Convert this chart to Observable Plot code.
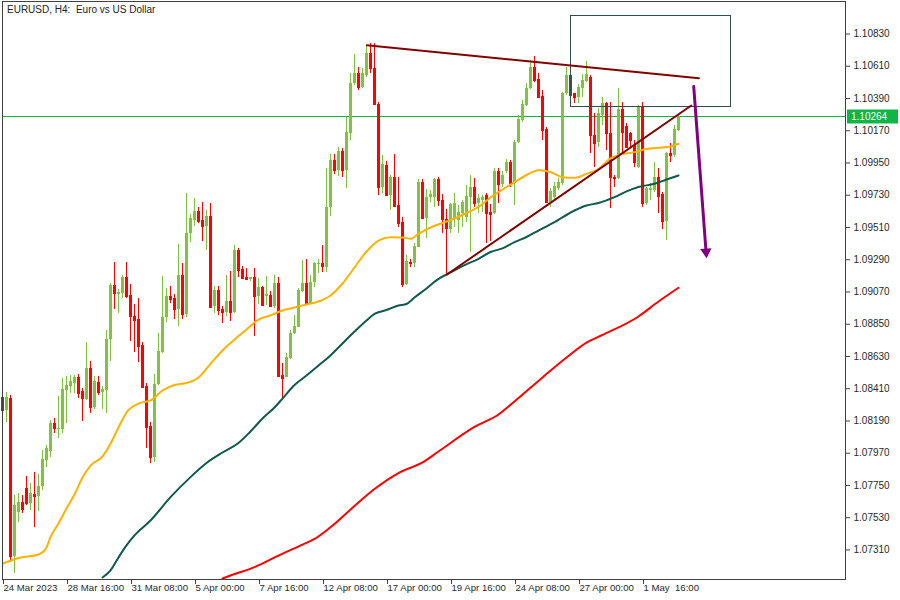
<!DOCTYPE html>
<html><head><meta charset="utf-8">
<script src="https://cdn.jsdelivr.net/npm/d3@7"></script>
<script src="https://cdn.jsdelivr.net/npm/@observablehq/plot@0.6"></script>
<style>
html,body{margin:0;padding:0;background:#fff;}
#chart svg{display:block;}
</style></head><body><div id="chart"></div>
<script>
// ---- chart title ----
const title = "EURUSD, H4:  Euro vs US Dollar";

// ---- candles (H4 bars, index 0 = 24 Mar 2023 00:00) ----
const open = [
1.08350,1.08261,1.08341,1.07266,1.07568,1.07636,1.07727,1.07625,1.07688,1.07675,
1.07743,1.07920,1.07982,1.08175,1.08132,1.08132,1.08398,1.08425,1.08448,1.08489,
1.08391,1.08337,1.08550,1.08284,1.08450,1.08386,1.08398,1.08746,1.09116,1.09055,
1.09062,1.09171,1.09046,1.08905,1.08882,1.08705,1.08425,1.08152,1.07943,1.08437,
1.08659,1.08894,1.09039,1.09028,1.08951,1.09182,1.08916,1.09467,1.09558,1.09619,
1.09558,1.09519,1.09585,1.08971,1.09080,1.08951,1.08932,1.09005,1.08932,1.09353,
1.09221,1.09171,1.09157,1.09167,1.09039,1.09103,1.09041,1.09046,1.08971,1.09130,
1.08500,1.08489,1.08614,1.08785,1.08830,1.09075,1.09130,1.08994,1.09133,1.09258,
1.09266,1.09239,1.09644,1.09967,1.09899,1.10030,1.09899,1.10149,1.10490,1.10563,
1.10467,1.10547,1.10695,1.10593,1.10349,1.09785,1.09933,1.09728,1.09853,1.09660,
1.09546,1.09121,1.09273,1.09262,1.09376,1.09817,1.09569,1.09713,1.09717,1.09837,
1.09694,1.09562,1.09496,1.09562,1.09558,1.09608,1.09576,1.09717,1.09785,1.09676,
1.09694,1.09728,1.09614,1.09603,1.09892,1.09803,1.09894,1.09955,1.09808,1.10092,
1.10240,1.10342,1.10456,1.10604,1.10518,1.10404,1.10176,1.09683,1.09717,1.09774,
1.09808,1.10422,1.10547,1.10422,1.10399,1.10456,1.10508,1.10535,1.10138,1.10092,
1.10274,1.10358,1.10149,1.09853,1.09846,1.10313,1.10199,1.10149,1.10069,1.09921,
1.10335,1.09676,1.09762,1.09762,1.09853,1.09735,1.09553,1.10013,1.10001,1.10172];
const high = [
1.08364,1.08386,1.08364,1.07682,1.07695,1.07682,1.07811,1.07761,1.07841,1.07825,
1.07989,1.08023,1.08193,1.08205,1.08357,1.08478,1.08493,1.08500,1.08500,1.08507,
1.08410,1.08727,1.08596,1.08493,1.08496,1.08425,1.08807,1.09126,1.09271,1.09087,
1.09182,1.09271,1.09119,1.08983,1.09028,1.08723,1.08448,1.08182,1.08507,1.08789,
1.09176,1.09096,1.09107,1.09051,1.09394,1.09266,1.09740,1.09597,1.09706,1.09648,
1.09678,1.09626,1.09672,1.09107,1.09107,1.08971,1.09182,1.09212,1.09387,1.09365,
1.09244,1.09228,1.09171,1.09228,1.09164,1.09107,1.09178,1.09075,1.09182,1.09171,
1.08584,1.08648,1.08807,1.08910,1.09096,1.09285,1.09290,1.09182,1.09273,1.09290,
1.09387,1.09910,1.10008,1.10008,1.10058,1.10047,1.10258,1.10563,1.10688,1.10599,
1.10593,1.10752,1.10763,1.10763,1.10365,1.10001,1.09962,1.09865,1.10008,1.09853,
1.09580,1.09319,1.09290,1.09399,1.09835,1.09835,1.09767,1.09762,1.09842,1.09853,
1.09735,1.09631,1.09676,1.09740,1.09660,1.09694,1.09796,1.09865,1.09842,1.09735,
1.09728,1.09740,1.09667,1.09910,1.09915,1.09894,1.09972,1.09967,1.10103,1.10274,
1.10376,1.10494,1.10649,1.10679,1.10558,1.10445,1.10190,1.09774,1.09819,1.09842,
1.10433,1.10604,1.10558,1.10426,1.10486,1.10554,1.10644,1.10547,1.10286,1.10320,
1.10399,1.10365,1.10365,1.09865,1.10456,1.10365,1.10217,1.10160,1.10103,1.10342,
1.10365,1.09785,1.09808,1.09955,1.09910,1.09751,1.10024,1.10081,1.10206,1.10281];
const low = [
1.08248,1.08182,1.07227,1.07147,1.07500,1.07557,1.07613,1.07579,1.07465,1.07575,
1.07716,1.07875,1.07943,1.08107,1.08073,1.08103,1.08175,1.08375,1.08380,1.08341,
1.08189,1.08330,1.08243,1.08266,1.08364,1.08266,1.08243,1.08596,1.08951,1.08925,
1.09028,1.09024,1.08732,1.08655,1.08587,1.08412,1.08000,1.07898,1.07905,1.08432,
1.08652,1.08862,1.08989,1.08880,1.08835,1.08880,1.08898,1.09406,1.09517,1.09535,
1.09414,1.09353,1.08959,1.08921,1.08910,1.08857,1.08903,1.08871,1.08925,1.09171,
1.09153,1.09153,1.09144,1.08768,1.08985,1.08971,1.08978,1.08962,1.08955,1.08489,
1.08330,1.08485,1.08609,1.08778,1.08826,1.09069,1.08989,1.08989,1.09103,1.09194,
1.09205,1.09205,1.09585,1.09872,1.09858,1.09849,1.09774,1.10103,1.10479,1.10445,
1.10456,1.10535,1.10558,1.10349,1.09728,1.09744,1.09728,1.09626,1.09648,1.09512,
1.09099,1.09114,1.09235,1.09239,1.09371,1.09562,1.09433,1.09683,1.09648,1.09655,
1.09471,1.09189,1.09471,1.09512,1.09471,1.09512,1.09546,1.09341,1.09648,1.09603,
1.09614,1.09399,1.09416,1.09599,1.09672,1.09785,1.09880,1.09785,1.09660,1.10085,
1.10228,1.10335,1.10449,1.10501,1.10388,1.10103,1.09672,1.09648,1.09694,1.09762,
1.09796,1.10410,1.10399,1.10354,1.10354,1.10399,1.10501,1.10013,1.09921,1.10058,
1.10206,1.10035,1.09638,1.09785,1.09835,1.10001,1.10047,1.10047,1.09921,1.09910,
1.09648,1.09660,1.09694,1.09751,1.09608,1.09494,1.09421,1.09955,1.09985,1.10167];
const close = [
1.08261,1.08352,1.07266,1.07613,1.07636,1.07584,1.07625,1.07693,1.07675,1.07743,
1.07925,1.08000,1.08175,1.08137,1.08141,1.08403,1.08432,1.08459,1.08489,1.08380,
1.08341,1.08550,1.08284,1.08459,1.08386,1.08405,1.08746,1.09116,1.09058,1.09067,
1.09171,1.09041,1.08905,1.08876,1.08700,1.08420,1.08148,1.07943,1.08439,1.08664,
1.08898,1.09039,1.09019,1.08951,1.09182,1.08916,1.09471,1.09573,1.09619,1.09553,
1.09519,1.09585,1.08966,1.09080,1.08944,1.08930,1.09005,1.08932,1.09353,1.09217,
1.09164,1.09155,1.09167,1.09039,1.09103,1.08978,1.09051,1.08971,1.09130,1.08493,
1.08478,1.08625,1.08789,1.08835,1.09080,1.09130,1.08994,1.09137,1.09262,1.09266,
1.09244,1.09648,1.09967,1.09899,1.10030,1.09899,1.10160,1.10490,1.10563,1.10467,
1.10558,1.10695,1.10593,1.10349,1.09785,1.09940,1.09728,1.09853,1.09653,1.09539,
1.09121,1.09280,1.09262,1.09380,1.09817,1.09569,1.09717,1.09735,1.09837,1.09694,
1.09562,1.09501,1.09667,1.09672,1.09614,1.09678,1.09721,1.09785,1.09676,1.09706,
1.09717,1.09603,1.09599,1.09894,1.09801,1.09865,1.09955,1.09808,1.10092,1.10245,
1.10349,1.10460,1.10604,1.10513,1.10399,1.10172,1.09683,1.09758,1.09790,1.09819,
1.10422,1.10547,1.10410,1.10399,1.10467,1.10513,1.10552,1.10138,1.10085,1.10286,
1.10358,1.10149,1.09853,1.09846,1.10313,1.10160,1.10058,1.10103,1.09955,1.10335,
1.09676,1.09774,1.09774,1.09853,1.09721,1.09553,1.10013,1.10001,1.10176,1.10264];

// ---- moving averages (read at bar indices) ----
const maFastIdx = [0,4,9,11,12,14,16,18,20,22,25,27,29,31,34,37,40,43,46,49,52,55,58,61,64,67,70,73,76,79,82,85,88,91,94,97,100,102,104,107,110,113,116,119,122,125,128,131,134,137,140,143,146,149,152,155,158,161,164,167,169];
const maFastVal = [1.07216,1.07255,1.07279,1.07327,1.07397,1.07491,1.07593,1.07688,1.07804,1.07886,1.07948,1.08034,1.08146,1.08248,1.08309,1.08330,1.08398,1.08435,1.08449,1.08487,1.08580,1.08671,1.08746,1.08814,1.08882,1.08910,1.08944,1.08964,1.08985,1.09005,1.09046,1.09128,1.09237,1.09346,1.09421,1.09444,1.09442,1.09433,1.09467,1.09510,1.09541,1.09571,1.09609,1.09650,1.09715,1.09769,1.09819,1.09868,1.09901,1.09889,1.09853,1.09849,1.09876,1.09909,1.09981,1.10011,1.10024,1.10045,1.10054,1.10063,1.10081];
const maMidIdx = [25,27,29,31,33,37,42,47,51,55,59,62,65,68,70,73,76,79,82,85,88,91,93,96,99,101,103,106,109,112,115,119,122,125,128,131,134,138,143,146,149,153,156,159,163,166,169];
const maMidVal = [1.07122,1.07170,1.07259,1.07341,1.07409,1.07511,1.07670,1.07807,1.07903,1.07975,1.08040,1.08118,1.08207,1.08282,1.08343,1.08435,1.08500,1.08569,1.08637,1.08719,1.08800,1.08876,1.08920,1.08947,1.08978,1.08988,1.09032,1.09094,1.09159,1.09203,1.09247,1.09296,1.09343,1.09367,1.09410,1.09445,1.09489,1.09546,1.09626,1.09660,1.09677,1.09717,1.09756,1.09786,1.09808,1.09837,1.09865];
const maSlowIdx = [55,57,63,69,75,78,82,88,93,99,105,109,118,124,128,135,141,146,150,159,164,169];
const maSlowVal = [1.07115,1.07136,1.07193,1.07272,1.07347,1.07385,1.07465,1.07610,1.07726,1.07835,1.07907,1.07982,1.08149,1.08234,1.08323,1.08487,1.08623,1.08725,1.08777,1.08903,1.09005,1.09099];

// ---- drawn objects ----
const resistIdx = [91.1, 174.1];   const resistPx = [1.10754, 1.10528];
const supportIdx = [111.1, 172.2]; const supportPx = [1.09189, 1.10342];
const zoneIdx = [142.1, 182.1];    const zonePx = [1.10335, 1.10954];
const arrowIdx = [172.8, 176.0];   const arrowPx = [1.10472, 1.09303];

// ---- axes ----
const yTicks = [1.07310,1.07530,1.07750,1.07970,1.08190,1.08410,1.08630,1.08850,1.09070,1.09290,1.09510,1.09730,1.09950,1.10170,1.10390,1.10610,1.10830];
const xTickIdx = [0,16,32,48,64,80,96,112,128,144,160];
const xTickLabels = ["24 Mar 2023","28 Mar 16:00","31 Mar 08:00","5 Apr 00:00","7 Apr 16:00","12 Apr 08:00","17 Apr 00:00","19 Apr 16:00","24 Apr 08:00","27 Apr 00:00","1 May  16:00"];

const UP = "#80c242", DOWN = "#ff0000";
const candles = open.map((o, i) => ({i, o, h: high[i], l: low[i], c: close[i], col: close[i] >= o ? UP : DOWN}));
const pts = (I, V) => I.map((i, k) => ({i, p: V[k]}));
const last = close[close.length - 1];
const arrow = pts(arrowIdx, arrowPx);
const shaft = [arrow[0], {i: arrow[1].i + 0.05 * (arrow[0].i - arrow[1].i), p: arrow[1].p + 0.05 * (arrow[0].p - arrow[1].p)}];
const PRICE_GREEN = "#0fb545";
const FONT = "'Liberation Sans', Arial, sans-serif";

const chart = Plot.plot({
  width: 900, height: 600,
  marginLeft: 2, marginRight: 55, marginTop: 1, marginBottom: 21,
  style: {background: "#fff", fontFamily: FONT, fontSize: "10px", color: "#222", whiteSpace: "pre"},
  x: {type: "linear", domain: [0, 210.75]},
  y: {domain: [1.071085, 1.110517]},
  marks: [
    Plot.ruleY([last], {stroke: PRICE_GREEN, strokeWidth: 1, shapeRendering: "crispEdges"}),
    Plot.ruleX(candles, {x: "i", y1: "l", y2: "h", stroke: "col", strokeWidth: 1, shapeRendering: "crispEdges"}),
    Plot.rect(candles, {x1: d => d.i - 0.375, x2: d => d.i + 0.375, y1: "o", y2: "c", fill: "col", shapeRendering: "crispEdges"}),
    Plot.ruleY(candles, {y: "c", x1: d => d.i - 0.375, x2: d => d.i + 0.375, stroke: "col", shapeRendering: "crispEdges"}),
    Plot.line(pts(maSlowIdx, maSlowVal), {x: "i", y: "p", stroke: "#ff0000", strokeWidth: 2, curve: "monotone-x", clip: true}),
    Plot.line(pts(maMidIdx, maMidVal), {x: "i", y: "p", stroke: "#0f5a4a", strokeWidth: 2, curve: "monotone-x", clip: true}),
    Plot.line(pts(maFastIdx, maFastVal), {x: "i", y: "p", stroke: "#ffb300", strokeWidth: 2, curve: "monotone-x", clip: true}),
    Plot.rect([0], {x1: () => zoneIdx[0], x2: () => zoneIdx[1], y1: () => zonePx[0], y2: () => zonePx[1], fill: "none", stroke: "#2f4f4f", strokeWidth: 1, shapeRendering: "crispEdges"}),
    Plot.line(pts(resistIdx, resistPx), {x: "i", y: "p", stroke: "#800000", strokeWidth: 2}),
    Plot.line(pts(supportIdx, supportPx), {x: "i", y: "p", stroke: "#800000", strokeWidth: 2}),
    Plot.line(shaft, {x: "i", y: "p", stroke: "#800080", strokeWidth: 3}),
    Plot.dot([arrow[1]], {x: "i", y: "p", symbol: "triangle", r: 4.2, fill: "#800080", stroke: "none", rotate: 176, dy: -6, dx: -0.4}),
    Plot.frame({stroke: "#404040", shapeRendering: "crispEdges"}),
    Plot.axisY(yTicks, {anchor: "right", tickSize: 4, tickPadding: 4, tickFormat: d => d.toFixed(5), label: null, stroke: "#404040", fill: "#2a2a2a", fontSize: 10}),
    Plot.axisX(xTickIdx, {anchor: "bottom", tickSize: 5, tickPadding: 0, tickFormat: d => xTickLabels[xTickIdx.indexOf(d)], textAnchor: "start", dx: 1, label: null, stroke: "#404040", fill: "#2a2a2a", fontSize: 9.6, letterSpacing: "-0.2px"}),
    Plot.text([title], {frameAnchor: "top-left", dx: 4.5, dy: 4, lineAnchor: "top", textAnchor: "start", fontSize: 10, fill: "#222", letterSpacing: "-0.2px"})
  ]
});

// current price tag on the right scale
const svg = d3.select(chart);
const py = Math.round(chart.scale("y").apply(last));
svg.append("rect").attr("x", 847).attr("y", py - 6.5).attr("width", 51).attr("height", 14).attr("fill", PRICE_GREEN);
svg.append("text").attr("x", 851).attr("y", py + 4).attr("fill", "#fff").attr("text-anchor", "start")
  .attr("font-size", 10).attr("font-family", FONT).text(last.toFixed(5));

document.getElementById("chart").appendChild(chart);
</script></body></html>
